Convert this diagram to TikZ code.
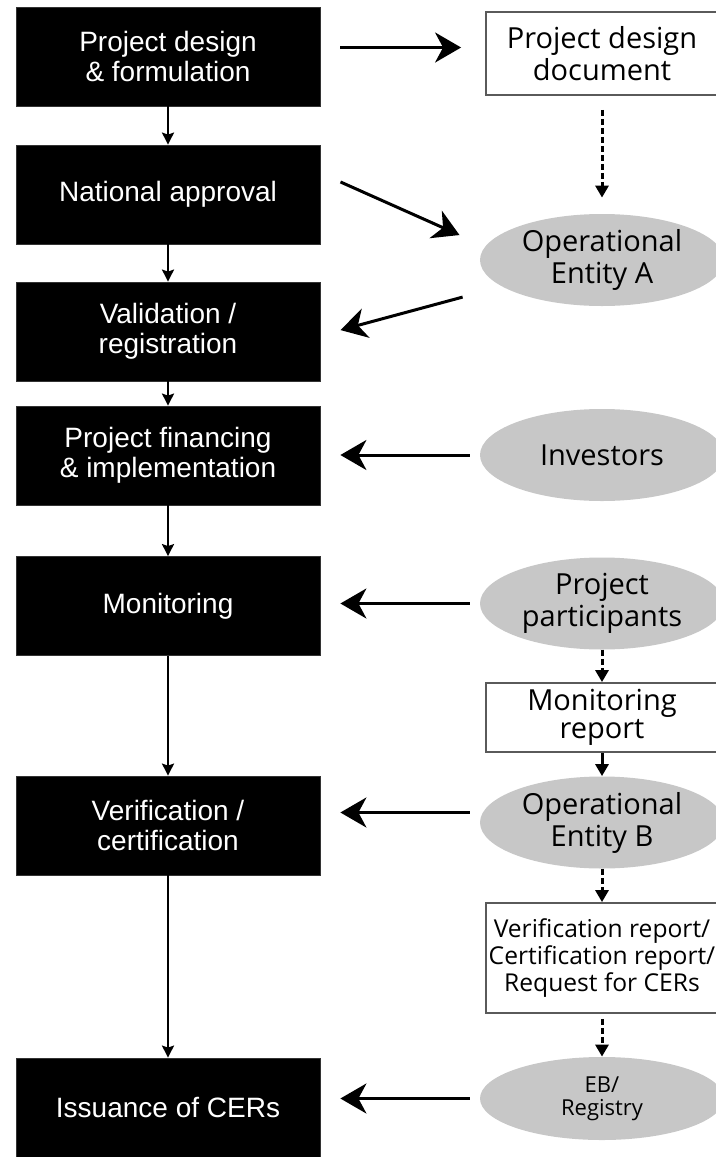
\documentclass[tikz,border=0pt]{standalone}
\usepackage{fontspec}
\newfontfamily\boxfont{Liberation Sans}
\newfontfamily\docfont{Open Sans}
\usetikzlibrary{arrows.meta, shapes.geometric}
\definecolor{entgray}{RGB}{199,199,199}
\definecolor{docline}{RGB}{90,90,90}
\tikzset{
  stepbox/.style={
    rectangle, fill=black, draw=black!80,
    text=white, font=\boxfont\fontsize{14}{15}\selectfont,
    align=center, inner sep=0pt,
    minimum width=152pt, minimum height=49.5pt
  },
  docbox/.style={
    rectangle, draw=docline, line width=0.9pt, fill=white,
    font=\docfont\fontsize{14.5}{16}\selectfont,
    align=center, inner sep=0pt,
    minimum width=116pt, minimum height=#1
  },
  entity/.style={
    ellipse, fill=entgray, draw=none,
    font=\docfont\fontsize{14.5}{16}\selectfont,
    align=center, inner sep=0pt,
    minimum width=122pt, minimum height=46pt
  },
  flow/.style   ={draw=black, line width=1.1pt, -{Stealth[length=6pt, width=6pt, inset=1pt]}},
  feed/.style   ={draw=black, line width=1.5pt, -{Stealth[length=13pt, width=15pt, inset=4pt]},
    shorten <=5pt, shorten >=10pt},
  docflow/.style={draw=black, line width=1.5pt, -{Triangle[length=6pt, width=6.5pt]},
    dash pattern=on 3pt off 1.5pt}
}

\begin{document}
\begin{tikzpicture}[x=0.5pt, y=-0.5pt]
\useasboundingbox (0,0) rectangle (716,1157);
% Etapes du projet
\node[stepbox] (design)    at (168,56.5)   {Project design\\\& formulation};
\node[stepbox] (approval)  at (168,194.5)  {National approval};
\node[stepbox] (valid)     at (168,331.5)  {Validation /\\registration};
\node[stepbox] (financing) at (168,455.5)  {Project financing\\\& implementation};
\node[stepbox] (monitor)   at (168,606)    {Monitoring};
\node[stepbox] (verif)     at (168,825.5)  {Verification /\\certification};
\node[stepbox] (issue)     at (168,1107.5) {Issuance of CERs};
% Documents et acteurs
\node[docbox=41.5pt] (pdd)     at (602,53.5)  {Project design\\document};
\node[entity]        (oeA)     at (602,260)   {Operational\\Entity A};
\node[entity]        (invest)  at (602,455)   {Investors};
\node[entity]        (partic)  at (602,603.5) {Project\\participants};
\node[docbox=34.5pt, font=\docfont\fontsize{14.5}{13}\selectfont]
                     (mreport) at (602,717.5) {Monitoring\\report};
\node[entity]        (oeB)     at (602,822.5) {Operational\\Entity B};
\node[docbox=55pt, font=\docfont\fontsize{12.3}{12}\selectfont]
                     (vreport) at (602,958)   {Verification report/\\Certification report/\\Request for CERs};
\node[entity, minimum height=41.5pt, font=\docfont\fontsize{11}{11.5}\selectfont]
                     (eb)      at (602,1098.5) {EB/\\Registry};
% Enchainement des etapes
\draw[flow] (design)    -- (approval);
\draw[flow] (approval)  -- (valid);
\draw[flow] (valid)     -- (financing);
\draw[flow] (financing) -- (monitor);
\draw[flow] (monitor)   -- (verif);
\draw[flow] (verif)     -- (issue);
% Fleches vers les acteurs
\coordinate (dA) at ([yshift=4.5pt]design.east);
\draw[feed, shorten <=10pt, shorten >=12pt] (dA) -- (dA -| pdd.west);
\draw[feed, shorten <=11pt, shorten >=11pt] ([yshift=10.75pt]approval.east) -- ([yshift=8pt]oeA.west);
\draw[feed, shorten <=8.8pt, shorten >=10.4pt] ([yshift=-16.25pt]oeA.west) -- ([yshift=-2pt]valid.east);
\draw[feed] (invest.west) -- (invest.west -| financing.east);
\draw[feed] (partic.west) -- (partic.west -| monitor.east);
\coordinate (vB) at ([yshift=5pt]oeB.west);
\draw[feed] (vB) -- (vB -| verif.east);
\draw[feed] (eb.west) -- (eb.west -| issue.east);
% Circuit des documents
\draw[docflow, shorten <=7pt, shorten >=8pt] (pdd) -- (oeA);
\draw[docflow] (partic)  -- (mreport);
\draw[docflow, solid] (mreport) -- (oeB);
\draw[docflow] (oeB)     -- (vreport);
\draw[docflow, shorten <=2.5pt] (vreport) -- (eb);
\end{tikzpicture}
\end{document}
